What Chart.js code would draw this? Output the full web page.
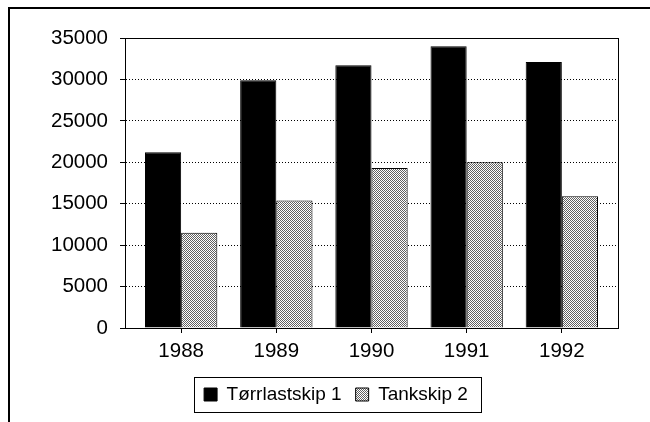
<!DOCTYPE html>
<html>
<head>
<meta charset="utf-8">
<script src="https://cdn.jsdelivr.net/npm/chart.js@4"></script>
<style>
  body { margin: 0; background: #fff; }
  #wrap { position: relative; width: 650px; height: 422px; overflow: hidden; }
  #frame { position: absolute; left: 8px; top: 7px; width: 700px; height: 500px; border: 2px solid #000; box-sizing: border-box; }
  canvas { position: absolute; left: 0; top: 0; }
</style>
</head>
<body>
<div id="wrap">
  <div id="frame"></div>
  <canvas id="myChart" width="650" height="422"></canvas>
</div>
<script>
const years = ['1988', '1989', '1990', '1991', '1992'];
const torrlast = [21200, 29900, 31700, 34000, 32100];
const tank = [11500, 15400, 19300, 20000, 15900];
const yTicks = [0, 5000, 10000, 15000, 20000, 25000, 30000, 35000];

// stippled fill for the second series
const pc = document.createElement('canvas');
pc.width = 2; pc.height = 2;
const pctx = pc.getContext('2d');
pctx.fillStyle = '#fff';
pctx.fillRect(0, 0, 2, 2);
pctx.fillStyle = '#606060';
pctx.fillRect(0, 0, 1, 1);
pctx.fillRect(1, 1, 1, 1);
const stipple = pctx.createPattern(pc, 'repeat');

const family = '"Liberation Sans", Arial, sans-serif';
const tickFont = { family: family, size: 20.5 };
const legendFont = { family: family, size: 19 };

const framePlugin = {
    id: 'framePlugin',
    afterLayout(chart) {
        // legend in the original sits a bit right of centre
        chart.legend.left += 7;
        chart.legend.right += 7;
    },
    afterDraw(chart) {
        const ctx = chart.ctx;
        const a = chart.chartArea;
        ctx.save();
        ctx.strokeStyle = '#000';
        ctx.lineWidth = 1;
        ctx.strokeRect(Math.round(a.left) + 0.5, Math.round(a.top) + 0.5,
            Math.round(a.right - a.left), Math.round(a.bottom - a.top));
        // box around legend
        const hb = chart.legend.legendHitBoxes;
        if (hb && hb.length) {
            const first = hb[0], last = hb[hb.length - 1];
            const cy = first.top + first.height / 2;
            const x1 = Math.round(first.left - 10) + 0.5;
            const x2 = Math.round(last.left + last.width + 13) + 0.5;
            const y1 = Math.round(cy - 17.5) + 0.5;
            const y2 = Math.round(cy + 17.5) + 0.5;
            ctx.strokeRect(x1, y1, x2 - x1, y2 - y1);
        }
        ctx.restore();
    }
};

const ctx = document.getElementById('myChart').getContext('2d');
new Chart(ctx, {
    type: 'bar',
    data: {
        datasets: [
            {
                label: 'Tørrlastskip 1',
                data: years.map((y, i) => ({ x: Number(y), y: torrlast[i] })),
                backgroundColor: '#000',
                borderColor: '#000',
                borderWidth: 1
            },
            {
                label: 'Tankskip 2',
                data: years.map((y, i) => ({ x: Number(y), y: tank[i] })),
                backgroundColor: stipple,
                borderColor: '#000',
                borderWidth: 1
            }
        ]
    },
    options: {
        responsive: false,
        animation: false,
        categoryPercentage: 0.76,
        barPercentage: 1,
        layout: { padding: { top: 38, left: 40, right: 32, bottom: 8 } },
        plugins: {
            legend: {
                position: 'bottom',
                labels: {
                    font: legendFont,
                    color: '#000',
                    boxWidth: 13,
                    boxHeight: 13,
                    padding: 14
                }
            },
            tooltip: { enabled: false }
        },
        scales: {
            x: {
                type: 'linear',
                offset: false,
                min: Number(years[0]) - 0.59,
                max: Number(years[years.length - 1]) + 0.59,
                afterFit(scale) { scale.height = 43; },
                ticks: {
                    stepSize: 1,
                    includeBounds: false,
                    font: tickFont,
                    color: '#000',
                    padding: 6,
                    callback: (v) => years.includes(String(v)) ? String(v) : ''
                },
                grid: { offset: false, drawOnChartArea: false, color: '#000', tickLength: 5 },
                border: { color: '#000', width: 1 }
            },
            y: {
                min: yTicks[0],
                max: yTicks[yTicks.length - 1],
                afterFit(scale) { scale.width = 85; },
                ticks: {
                    stepSize: 5000,
                    font: tickFont,
                    color: '#000',
                    padding: 12,
                    callback: (v) => String(v)
                },
                grid: { color: '#000', tickLength: 5 },
                border: { color: '#000', width: 1, dash: [1, 2] }
            }
        }
    },
    plugins: [framePlugin]
});
</script>
</body>
</html>
